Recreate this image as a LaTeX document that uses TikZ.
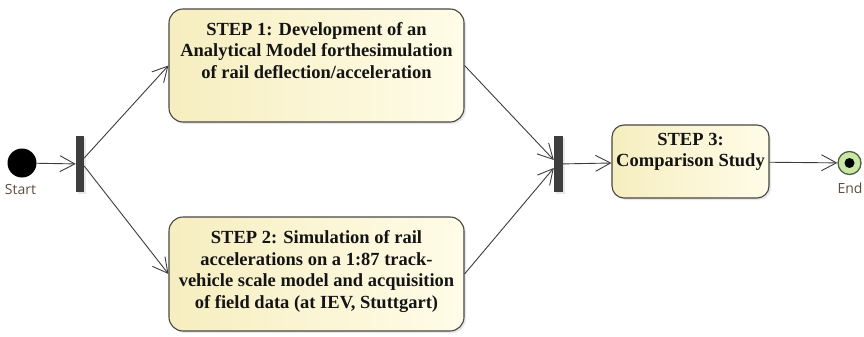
\documentclass[tikz,border=0pt]{standalone}
\usepackage{fontspec}
\setmainfont{Liberation Serif}
\newfontfamily\termfont{Open Sans}
\usepackage{tikz}
\usetikzlibrary{positioning,arrows.meta,shadows}

\definecolor{boxleft}{RGB}{246,238,192}
\definecolor{boxright}{RGB}{255,252,232}
\definecolor{boxline}{RGB}{72,70,66}
\definecolor{barfill}{RGB}{62,62,62}
\definecolor{flowline}{RGB}{60,60,60}
\definecolor{endfill}{RGB}{202,232,165}
\definecolor{endline}{RGB}{78,96,62}
\definecolor{termtext}{RGB}{92,78,64}

\tikzset{
  stepbox/.style={draw=boxline, line width=1.1pt, rounded corners=14pt,
    left color=boxleft, right color=boxright, inner sep=0pt,
    drop shadow={shadow xshift=2pt, shadow yshift=-2pt, opacity=0.18}},
  steptext/.style={font=\bfseries\fontsize{18.5}{21.5}\selectfont, align=center,
    inner sep=0pt, text=black!92},
  forkbar/.style={fill=barfill, draw=none, minimum width=8pt, minimum height=56pt,
    inner sep=0pt, drop shadow={shadow xshift=1.5pt, shadow yshift=-1.5pt, opacity=0.18}},
  flow/.style={draw=flowline, line width=0.9pt, -{Straight Barb[length=15pt,width=16pt]}},
  termlabel/.style={font=\termfont\fontsize{14}{16}\selectfont, text=termtext, inner sep=0pt}
}

\begin{document}
\begin{tikzpicture}[x=1pt,y=-1pt]
  \useasboundingbox (0,0) rectangle (864,337);

  \node (start) [circle, fill=black, minimum size=29pt, inner sep=0pt] at (22,163) {};
  \node (startlbl) [termlabel, anchor=base] at (20.5,194) {Start};

  \node (fork) [forkbar] at (80,164) {};

  \node (step1) [stepbox, minimum width=295pt, minimum height=113pt] at (316.5,65.5) {};
  \node (step1txt) [steptext, below=13.5pt of step1.north]
    {STEP 1: Development of an\\ Analytical Model forthesimulation\\ of rail deflection/acceleration};

  \node (step2) [stepbox, minimum width=295pt, minimum height=114pt] at (316.5,274) {};
  \node (step2txt) [steptext, below=14pt of step2.north]
    {STEP 2: Simulation of rail\\ accelerations on a 1:87 track-\\ vehicle scale model and acquisition\\ of field data (at IEV, Stuttgart)};

  \node (join) [forkbar, minimum width=9pt] at (558.5,164) {};

  \node (step3) [stepbox, rounded corners=12pt, minimum width=157pt, minimum height=73pt] at (690.5,161.5) {};
  \node (step3txt) [steptext, below=8.5pt of step3.north] {STEP 3:\\ Comparison Study};

  \node (endnode) [circle, fill=endfill, draw=endline, line width=1.3pt, minimum size=23pt, inner sep=0pt] at (849.5,163) {};
  \node (enddot) [circle, fill=black, minimum size=10pt, inner sep=0pt] at (endnode) {};
  \node (endlbl) [termlabel, anchor=base] at (850,193) {End};

  \draw [flow] (start) -- (fork);
  \draw [flow] ([yshift=6pt]fork.east) -- (step1.west);
  \draw [flow] ([yshift=-2pt]fork.east) -- (step2.west);
  \draw [flow] (step1.east) -- ([yshift=4pt]join.west);
  \draw [flow] (step2.east) -- ([yshift=-4pt]join.west);
  \draw [flow] (join) -- (step3);
  \draw [flow] (step3) -- (endnode);
\end{tikzpicture}
\end{document}
